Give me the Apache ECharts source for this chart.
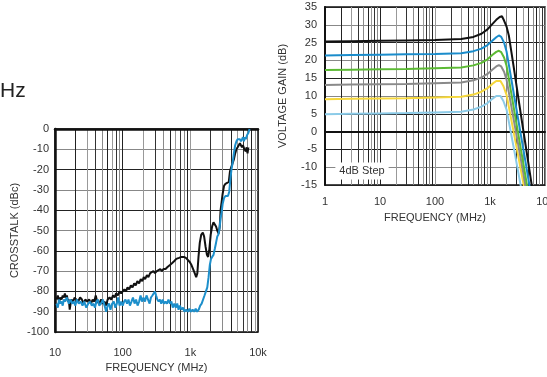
<!DOCTYPE html>
<html><head><meta charset="utf-8">
<script src="https://cdn.jsdelivr.net/npm/echarts@6/dist/echarts.min.js"></script>
<style>html,body{margin:0;padding:0;background:#fff}#c{width:547px;height:377px}</style>
</head><body><div id="c"></div>
<script>
// ---- Crosstalk chart (left) ----
const xtFreqBlack = [10.5,11,11.5,12,12.5,13,13.5,14,14.5,15,15.5,16,16.5,17,17.5,18.5,19.5,20.5,22,23.5,25,26.5,28,30,32,34,36,38,40,42,45,48,51,54,57,60,64,68,72,76,80,85,90,95,100,106,112,118,125,132,140,148,156,165,175,185,195,205,215,228,240,255,270,285,300,320,340,360,380,400,430,460,500,540,580,620,680,740,800,860,920,980,1040,1100,1160,1220,1270,1320,1380,1450,1530,1600,1680,1760,1830,1900,2000,2100,2200,2300,2400,2500,2620,2720,2800,2900,3000,3150,3300,3500,3700,3850,4000,4200,4400,4600,4800,5000,5200,5400,5600,5800,6000,6300,6600,6800,7000,7200];
const xtBlack = [-84,-82,-85,-83,-84,-82,-83,-81,-83,-82,-85,-84,-89,-86,-84,-85,-83,-84,-85,-83,-84,-86,-84,-85,-84,-86,-84,-85,-82,-85,-86,-84,-86,-85,-87,-84,-83,-84,-82,-83,-81,-82,-80,-81,-80,-79,-80,-78,-79,-77,-78,-76,-77,-75,-76,-74,-75,-73,-74,-72,-73,-71,-71,-70,-71,-70,-70,-69,-70,-69,-69,-68,-67,-66,-65,-64,-63.5,-63,-63,-63.5,-64,-65.5,-67,-69,-71,-73,-71,-63,-56,-52,-51,-53,-58,-62,-63,-60,-52,-48,-46,-46,-48,-50,-51.5,-48,-40,-36,-32,-28,-27,-26.5,-26,-21,-19,-17,-15,-12,-10,-9,-8,-7,-7.5,-9,-8,-10,-11,-9,-12,-9];
const xtFreqBlue = [10.5,11,11.5,12,12.5,13,13.5,14,15,16,17,18,19,20,21,22.5,24,25.5,27,29,31,33,35,37,39,41,43,45,48,51,54,57,60,63,66,70,74,78,82,86,90,95,100,105,110,116,122,128,135,142,150,158,166,175,184,193,203,214,225,237,250,262,275,288,300,312,325,340,355,372,390,410,430,452,475,500,525,550,580,610,640,670,700,740,780,820,870,920,970,1020,1080,1140,1200,1260,1330,1400,1470,1550,1620,1700,1780,1860,1940,2020,2100,2200,2300,2400,2500,2600,2700,2800,2900,3000,3150,3300,3450,3600,3750,3900,4050,4200,4400,4600,4800,5000,5200,5400,5600,5800,6000,6200,6400,6600,6900,7200,7500];
const xtBlue = [-86,-88,-84,-86,-85,-87,-84,-85,-83,-86,-84,-86,-85,-87,-84,-86,-85,-87,-85,-88,-86,-85,-87,-86,-88,-85,-84,-87,-86,-84,-87,-90,-87,-86,-89,-86,-85,-88,-86,-83,-87,-85,-87,-85,-84,-86,-84,-87,-85,-83,-86,-84,-87,-85,-82,-85,-83,-85,-82,-84,-86,-83,-82,-81,-80,-82,-84,-85,-84,-86,-84,-86,-85,-86,-84,-86,-85,-88,-86,-88,-86,-89,-87,-89,-88,-90,-89,-90,-88.5,-90,-89,-90,-88.5,-90,-89,-87,-86,-86,-82,-80,-78,-73,-67,-64,-63,-62,-59,-56,-53,-52,-49,-44,-41,-37,-34,-33,-33,-33,-31,-25,-20,-17,-12,-8,-6,-5,-5.5,-5,-6,-5,-4,-6,-4,-5,-3,-2,0];
const xtTickValues = [10,100,1000,10000];
const xtTickLabels = ['10','100','1k','10k'];
const xtYTicks = {min:-100, max:0, interval:10};

// ---- Voltage gain chart (right) ----
const gainFreqBlack = [1,3,10,30,100,300,500,700,900,1100,1300,1500,1650,1800,2000,2200,2500,2800,3200,3600,4000,4500,5000,5800,7000];
const gainBlack     = [25.3,25.4,25.5,25.6,25.7,26,26.6,27.5,28.7,30.2,31.4,32.2,32.4,31.2,29.5,27,21.5,16.5,10.5,5.3,0.7,-4.4,-9,-15.5,-25];
const gainFreqBlue  = [1,3,10,30,100,300,500,700,900,1100,1300,1450,1600,1800,2000,2200,2500,2800,3200,3600,4000,4500,5200,6000];
const gainBlue      = [21.4,21.5,21.6,21.7,21.8,22,22.6,23.3,24.3,25.5,26.5,27,26.6,25,22.5,18.8,13.8,9.3,4.1,-0.5,-4.6,-9.2,-15,-21];
const gainFreqGreen = [1,3,10,30,100,300,500,700,900,1100,1300,1450,1600,1800,2000,2200,2500,2800,3200,3600,4000,4700,5500];
const gainGreen     = [17.3,17.4,17.5,17.6,17.8,18,18.6,19.3,20.3,21.5,22.4,22.7,22.3,20.8,18.5,14.8,9.8,5.3,0.1,-4.5,-8.6,-15,-21];
const gainFreqGray  = [1,3,10,30,100,300,500,700,900,1100,1300,1450,1600,1800,2000,2200,2500,2800,3200,3600,4000,4400,5200];
const gainGray      = [13.1,13.2,13.3,13.4,13.6,13.8,14.4,15.2,16.2,17.4,18.3,18.7,18.3,16.8,14.6,11,6.2,2,-3,-7.4,-11.4,-15,-21];
const gainFreqYellow= [1,3,10,30,100,300,500,700,900,1100,1300,1400,1550,1750,2000,2200,2500,2800,3200,3600,4100,5000];
const gainYellow    = [9.1,9.2,9.3,9.4,9.6,9.8,10.4,11.2,12.2,13.4,14.2,14.5,14.2,12.8,10.3,7,2.5,-1.5,-6.2,-10.4,-15,-22];
const gainFreqLtBlue= [1,3,10,30,100,300,500,700,900,1100,1300,1400,1550,1750,2000,2200,2500,2800,3200,3600,4500];
const gainLtBlue    = [4.9,5,5.1,5.2,5.4,5.6,6.2,7,8,9.2,10,10.3,10,8.6,6.2,2.8,-1.8,-5.8,-10.7,-15,-23];
const gainTickValues = [1,10,100,1000,10000];
const gainTickLabels = ['1','10','100','1k','10k'];
const gainYTicks = {min:-15, max:35, interval:5};

function minorGrid(lo, hi){ // 1..9 x each decade, for grid lines
  const out=[];
  for(let d=lo; d<hi; d*=10){ for(let k=1;k<10;k++) out.push(d*k); }
  out.push(hi); return out;
}
function pairs(xs, ys){ return xs.map((x,i)=>[x, ys[i]]); }
function labelFor(vals, labels){ return v => { const i = vals.findIndex(t => Math.abs(t-v)/t < 1e-6); return i>=0 ? labels[i] : ''; }; }

const FONT = 'Liberation Sans, Arial, sans-serif';
const txt = {color:'#333', fontSize:11, fontFamily:FONT};
const vGrid = {color:['#8a8a8a','#222','#999','#333'], width:1};
const hGrid = {color:['#222','#888'], width:1};

const option = {
  animation:false,
  backgroundColor:'#fff',
  grid:[
    {left:55, top:129, width:203, height:203, show:true, borderColor:'#111', borderWidth:1.5, backgroundColor:'transparent', outerBoundsMode:'none', containLabel:false},
    {left:325, top:7, width:220, height:178, show:true, borderColor:'#111', borderWidth:1.5, backgroundColor:'transparent', outerBoundsMode:'none', containLabel:false}
  ],
  xAxis:[
    {type:'log', gridIndex:0, logBase:10, min:10, max:10000,
     name:'FREQUENCY (MHz)', nameLocation:'middle', nameGap:30, nameTextStyle:txt,
     axisLine:{show:true, lineStyle:{color:'#111', width:2.5}},
     axisTick:{show:false, customValues:minorGrid(10,10000)},
     axisLabel:{...txt, margin:15, customValues:xtTickValues, formatter:labelFor(xtTickValues, xtTickLabels)},
     splitLine:{show:true, lineStyle:vGrid}},
    {type:'log', gridIndex:1, logBase:10, min:1, max:10000,
     name:'FREQUENCY (MHz)', nameLocation:'middle', nameGap:27, nameTextStyle:txt,
     axisLine:{show:true, lineStyle:{color:'#111', width:2}},
     axisTick:{show:false, customValues:minorGrid(1,10000)},
     axisLabel:{...txt, margin:11, customValues:gainTickValues, formatter:labelFor(gainTickValues, gainTickLabels)},
     splitLine:{show:true, lineStyle:vGrid}}
  ],
  yAxis:[
    {type:'value', gridIndex:0, ...xtYTicks,
     name:'CROSSTALK (dBc)', nameLocation:'middle', nameGap:35, nameTextStyle:txt,
     axisLine:{show:true, lineStyle:{color:'#111', width:2.5}},
     axisTick:{show:false}, axisLabel:{...txt, margin:6},
     splitLine:{show:true, lineStyle:hGrid}},
    {type:'value', gridIndex:1, ...gainYTicks,
     name:'VOLTAGE GAIN (dB)', nameLocation:'middle', nameGap:37, nameTextStyle:txt,
     axisLine:{show:true, lineStyle:{color:'#111', width:2}},
     axisTick:{show:false}, axisLabel:{...txt, margin:8},
     splitLine:{show:true, lineStyle:hGrid}}
  ],
  graphic:[
    {type:'text', left:0, top:81, style:{text:'Hz', font:'21px '+FONT, fill:'#222'}},
    {type:'text', x:362, y:171, z:100, style:{text:'4dB Step', font:'11px '+FONT, fill:'#333', align:'center', verticalAlign:'middle', backgroundColor:'#fff', padding:[3,4]}}
  ],
  series:[
    {type:'line', xAxisIndex:0, yAxisIndex:0, data:pairs(xtFreqBlack, xtBlack), showSymbol:false, lineStyle:{color:'#111', width:2}},
    {type:'line', xAxisIndex:0, yAxisIndex:0, data:pairs(xtFreqBlue, xtBlue), showSymbol:false, lineStyle:{color:'#1d8fcb', width:2}},
    {type:'line', xAxisIndex:1, yAxisIndex:1, data:pairs(gainFreqLtBlue, gainLtBlue), showSymbol:false, lineStyle:{color:'#8ccbe8', width:2}},
    {type:'line', xAxisIndex:1, yAxisIndex:1, data:pairs(gainFreqYellow, gainYellow), showSymbol:false, lineStyle:{color:'#f5d73c', width:2}},
    {type:'line', xAxisIndex:1, yAxisIndex:1, data:pairs(gainFreqGray, gainGray), showSymbol:false, lineStyle:{color:'#8a8a8a', width:2}},
    {type:'line', xAxisIndex:1, yAxisIndex:1, data:pairs(gainFreqGreen, gainGreen), showSymbol:false, lineStyle:{color:'#5cba34', width:2}},
    {type:'line', xAxisIndex:1, yAxisIndex:1, data:pairs(gainFreqBlue, gainBlue), showSymbol:false, lineStyle:{color:'#1a8ccb', width:2}},
    {type:'line', xAxisIndex:1, yAxisIndex:1, data:pairs(gainFreqBlack, gainBlack), showSymbol:false, lineStyle:{color:'#111', width:2}}
  ]
};
echarts.init(document.getElementById('c'), null, {renderer:'canvas'}).setOption(option);
</script></body></html>
